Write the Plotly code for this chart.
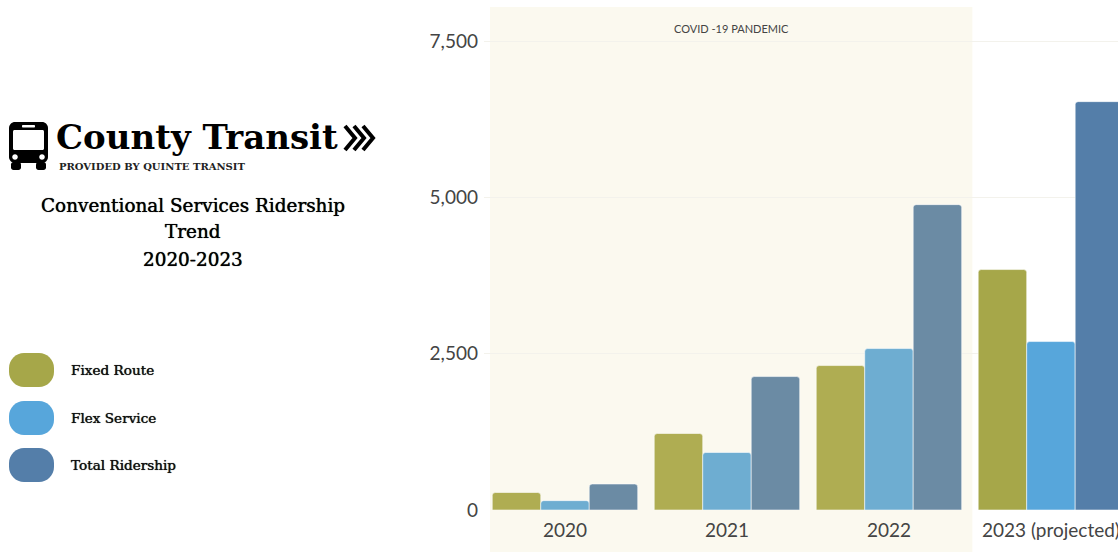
import plotly.graph_objects as go

# Ridership per year
years = ["2020", "2021", "2022", "2023 (projected)"]
fixed_route = [280, 1224, 2311, 3847]
flex_service = [150, 920, 2583, 2695]
total_ridership = [416, 2135, 4886, 6534]

# Muted tones for the pandemic years, full tones for the projection
fixed_colors = ["#AFAD52", "#AFAD52", "#AFAD52", "#A6A749"]
flex_colors = ["#6EADD1", "#6EADD1", "#6EADD1", "#57A6DB"]
total_colors = ["#6B8BA4", "#6B8BA4", "#6B8BA4", "#547EA9"]

legend_names = ["Fixed Route", "Flex Service", "Total Ridership"]
legend_colors = ["#A6A749", "#57A6DB", "#547EA9"]

W, H = 1118, 552
ML, MR, MT, MB = 484, 0, 10, 42
PW, PH = W - ML - MR, H - MT - MB


def px(x):
    return (x - ML) / PW


def py(y):
    return 1 - (y - MT) / PH


def rounded(x0, y0, x1, y1, r):
    k = r * 0.45
    pts = [
        ("M", (x0 + r, y0)), ("L", (x1 - r, y0)),
        ("C", (x1 - k, y0), (x1, y0 + k), (x1, y0 + r)), ("L", (x1, y1 - r)),
        ("C", (x1, y1 - k), (x1 - k, y1), (x1 - r, y1)), ("L", (x0 + r, y1)),
        ("C", (x0 + k, y1), (x0, y1 - k), (x0, y1 - r)), ("L", (x0, y0 + r)),
        ("C", (x0, y0 + k), (x0 + k, y0), (x0 + r, y0)),
    ]
    out = []
    for p in pts:
        out.append(p[0] + " ".join(f"{px(a):.5f},{py(b):.5f}" for a, b in p[1:]))
    return " ".join(out) + " Z"


def path_shape(d, fill, layer="above"):
    return dict(type="path", xref="paper", yref="paper", path=d,
                fillcolor=fill, line=dict(width=0), layer=layer)


def circle(cx, cy, r, fill):
    return path_shape(rounded(cx - r, cy - r, cx + r, cy + r, r), fill)


def chevron(x, y0, y1, depth, stroke):
    ym = (y0 + y1) / 2
    return dict(type="path", xref="paper", yref="paper",
                path=(f"M{px(x):.5f},{py(y0):.5f} L{px(x + depth):.5f},{py(ym):.5f} "
                      f"L{px(x):.5f},{py(y1):.5f}"),
                line=dict(color="#000000", width=stroke), layer="above")


fig = go.Figure()
for name, vals, cols in [
    (legend_names[0], fixed_route, fixed_colors),
    (legend_names[1], flex_service, flex_colors),
    (legend_names[2], total_ridership, total_colors),
]:
    fig.add_bar(name=name, x=years, y=vals,
                marker=dict(color=cols, line=dict(color="rgba(255,255,255,0.55)", width=1)))

shapes = [
    # Pandemic band behind the bars
    dict(type="rect", xref="x", yref="paper", x0=-0.463, x1=2.515,
         y0=-MB / PH, y1=py(7), fillcolor="#FBF9EF", line=dict(width=0), layer="below"),
    # Bus icon
    path_shape(rounded(9, 122, 48, 163, 6), "#000000"),
    path_shape(rounded(13, 130, 44, 150, 1.5), "#FFFFFF"),
    path_shape(rounded(22, 125, 35, 127.5, 1), "#FFFFFF"),
    circle(15, 157, 2.8, "#FFFFFF"),
    circle(42, 157, 2.8, "#FFFFFF"),
    path_shape(rounded(11, 162, 21, 170, 2.5), "#000000"),
    path_shape(rounded(36, 162, 46, 170, 2.5), "#000000"),
    # Chevrons after the wordmark
    chevron(345, 126, 150, 10, 4),
    chevron(354, 126, 150, 10, 4),
    chevron(363, 126, 150, 10, 4),
]

# Legend swatches
for color, top in zip(legend_colors, [353, 401, 448]):
    shapes.append(path_shape(rounded(9, top, 54, top + 34, 15), color))

SLAB = "DejaVu Serif, serif"
THICK = "0 0 0.7px #000000"
annotations = [
    dict(text="County Transit", x=px(55), y=py(137), xanchor="left", yanchor="middle",
         font=dict(family=SLAB, size=34, color="#000000", weight="bold")),
    dict(text="PROVIDED BY QUINTE TRANSIT", x=px(57.5), y=py(166), xanchor="left", yanchor="middle",
         font=dict(family=SLAB, size=10, color="#222222", weight="bold")),
    dict(text="Conventional Services Ridership", x=px(192.5), y=py(205), xanchor="center", yanchor="middle",
         font=dict(family=SLAB, size=18.4, color="#000000", shadow=THICK)),
    dict(text="Trend", x=px(192.5), y=py(232), xanchor="center", yanchor="middle",
         font=dict(family=SLAB, size=18.4, color="#000000", shadow=THICK)),
    dict(text="2020-2023", x=px(192.5), y=py(259), xanchor="center", yanchor="middle",
         font=dict(family=SLAB, size=18.4, color="#000000", shadow=THICK)),
    dict(text="COVID -19 PANDEMIC", x=px(731.5), y=py(28), xanchor="center", yanchor="middle",
         font=dict(family="Lato, sans-serif", size=11, color="#444444")),
]
for name, cy in zip(legend_names, [370, 417.5, 465]):
    annotations.append(dict(text=name, x=px(69.5), y=py(cy), xanchor="left", yanchor="middle",
                            font=dict(family=SLAB, size=13.6, color="#111111", shadow=THICK)))
for a in annotations:
    a.update(xref="paper", yref="paper", showarrow=False, borderpad=0)

fig.update_layout(
    width=W, height=H, margin=dict(l=ML, r=MR, t=MT, b=MB, pad=0),
    paper_bgcolor="#FFFFFF", plot_bgcolor="#FFFFFF",
    barmode="group", bargap=0.102, bargroupgap=0, barcornerradius=3,
    showlegend=False, shapes=shapes, annotations=annotations,
    font=dict(family="Lato, sans-serif", color="#444444"),
    xaxis=dict(type="category", range=[-0.5, 3.414], showgrid=False, zeroline=False,
               showline=False, ticks="", tickangle=0, tickfont=dict(size=19, color="#444444"),
               ticklabelstandoff=7, automargin=False),
    yaxis=dict(range=[0, 8000], tickvals=[0, 2500, 5000, 7500], ticktext=["0", "2,500", "5,000", "7,500"],
               showgrid=True, gridcolor="#F3F2EC", gridwidth=1, zeroline=False, showline=False,
               ticks="", tickfont=dict(size=19, color="#444444"), ticklabelstandoff=5, automargin=False),
)

fig.write_html("out.html", config=dict(displayModeBar=False))
